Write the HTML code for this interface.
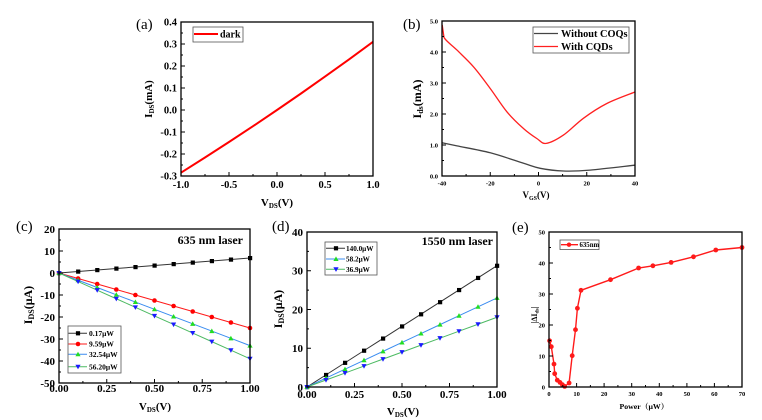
<!DOCTYPE html>
<html><head><meta charset="utf-8"><style>
html,body{margin:0;padding:0;background:#fff;}
svg{display:block;}
text{font-family:"Liberation Serif","Noto Serif CJK SC",serif;font-weight:bold;fill:#000;}
.pl{font-weight:normal;font-size:15px;}
</style></head><body>
<svg width="762" height="420" viewBox="0 0 762 420" xmlns="http://www.w3.org/2000/svg">
<defs>
<marker id="sqK" markerUnits="userSpaceOnUse" markerWidth="8" markerHeight="8" refX="4" refY="4"><rect x="2" y="2" width="4.2" height="4.2" fill="#000"/></marker>
<marker id="ciR" markerUnits="userSpaceOnUse" markerWidth="8" markerHeight="8" refX="4" refY="4"><circle cx="4" cy="4" r="2.3" fill="#ff0000"/></marker>
<marker id="ciR2" markerUnits="userSpaceOnUse" markerWidth="8" markerHeight="8" refX="4" refY="4"><circle cx="4" cy="4" r="2.4" fill="#ff1a1a"/></marker>
<marker id="trG" markerUnits="userSpaceOnUse" markerWidth="8" markerHeight="8" refX="4" refY="4"><polygon points="4,1.4 6.6,6 1.4,6" fill="#22dd22"/></marker>
<marker id="tdB" markerUnits="userSpaceOnUse" markerWidth="8" markerHeight="8" refX="4" refY="4"><polygon points="1.4,2 6.6,2 4,6.6" fill="#1a1aff"/></marker>
</defs>

<!-- ================= (a) ================= -->
<text class="pl" x="136" y="29">(a)</text>
<polyline fill="none" stroke="#ff0000" stroke-width="2" points="181,172.7 205,157.5 229,142 253,126.2 277,110 301,93.5 325,76.6 349,59.4 373,41.8"/>
<rect x="181" y="22" width="192" height="154" fill="none" stroke="#000" stroke-width="1.3"/>
<path stroke="#000" stroke-width="1" d="M181,22h4M181,44h4M181,66h4M181,88h4M181,110h4M181,132h4M181,154h4M181,176h4
M181,33h2M181,55h2M181,77h2M181,99h2M181,121h2M181,143h2M181,165h2
M229,176v-4M277,176v-4M325,176v-4M205,176v-2M253,176v-2M301,176v-2M349,176v-2"/>
<g font-size="10.5" text-anchor="end">
<text x="177" y="25.5">0.4</text><text x="177" y="47.5">0.3</text><text x="177" y="69.5">0.2</text><text x="177" y="91.5">0.1</text>
<text x="177" y="113.5">0.0</text><text x="177" y="135.5">-0.1</text><text x="177" y="157.5">-0.2</text><text x="177" y="179.5">-0.3</text>
</g>
<g font-size="10.5" text-anchor="middle">
<text x="181" y="188">-1.0</text><text x="229" y="188">-0.5</text><text x="277" y="188">0.0</text><text x="325" y="188">0.5</text><text x="373" y="188">1.0</text>
</g>
<text x="277" y="206" font-size="11" text-anchor="middle">V<tspan font-size="7" dy="2">DS</tspan><tspan dy="-2">(V)</tspan></text>
<text transform="translate(152,99) rotate(-90)" font-size="11" text-anchor="middle">I<tspan font-size="7" dy="2">DS</tspan><tspan dy="-2">(mA)</tspan></text>
<rect x="193" y="27" width="50" height="15" fill="#fff" stroke="#555" stroke-width="0.8"/>
<line x1="194" y1="34" x2="218" y2="34" stroke="#ff0000" stroke-width="2"/>
<text x="220" y="37.5" font-size="10">dark</text>

<!-- ================= (b) ================= -->
<text class="pl" x="403" y="29">(b)</text>
<path fill="none" stroke="#ff2020" stroke-width="1.3" d="M442.2,25 L444,37.5 C446.5,41.7 452.1,45.2 457,50.1 C461.9,55 468,60.5 473.6,66.9 C479.2,73.3 484.8,81.1 490.3,88.6 C495.9,96.1 501.4,105.1 506.9,111.8 C512.5,118.5 518.6,124.2 523.6,128.6 C528.6,133.1 533,136 536.8,138.5 C540.6,141 541.8,144 546.2,143.4 C550.6,142.8 557.2,139.3 563.4,135.1 C569.6,130.9 576.2,123.6 583.4,118.3 C590.6,113 598.2,107.9 606.8,103.5 C615.4,99.1 630.3,93.9 635,92"/>
<path fill="none" stroke="#444" stroke-width="1.3" d="M442,142.8 C444.5,143.3 449,144.2 457,145.9 C465.1,147.6 479.2,149.9 490.3,152.8 C501.4,155.7 515.3,160.7 523.6,163.3 C531.9,165.9 533.6,167 540.2,168.3 C546.8,169.6 555.1,170.7 563.4,171 C571.7,171.3 578.2,171.1 590.1,170.1 C602,169.1 627.5,166 635,165.2"/>
<rect x="442" y="21" width="193" height="155" fill="none" stroke="#000" stroke-width="1.3"/>
<path stroke="#000" stroke-width="1" d="M442,145h4M442,114h4M442,83h4M442,52h4M442,160.5h2M442,129.5h2M442,98.5h2M442,67.5h2M442,36.5h2
M490.25,176v-4M538.5,176v-4M586.75,176v-4M466.1,176v-2M514.4,176v-2M562.6,176v-2M610.9,176v-2"/>
<g font-size="6.5" text-anchor="end">
<text x="438" y="178.3">0.0</text><text x="438" y="147.3">1.0</text><text x="438" y="116.3">2.0</text><text x="438" y="85.3">3.0</text><text x="438" y="54.3">4.0</text><text x="438" y="23.3">5.0</text>
</g>
<g font-size="6.5" text-anchor="middle">
<text x="442" y="185.5">-40</text><text x="490.25" y="185.5">-20</text><text x="538.5" y="185.5">0</text><text x="586.75" y="185.5">20</text><text x="635" y="185.5">40</text>
</g>
<text x="536" y="198" font-size="9" text-anchor="middle">V<tspan font-size="6" dy="2">GS</tspan><tspan dy="-2">(V)</tspan></text>
<text transform="translate(421,99) rotate(-90)" font-size="12" text-anchor="middle">I<tspan font-size="8" dy="2">ds</tspan><tspan dy="-2">(mA)</tspan></text>
<rect x="533" y="27" width="96" height="26" fill="#fff" stroke="#555" stroke-width="0.8"/>
<line x1="534" y1="33.5" x2="558" y2="33.5" stroke="#444" stroke-width="1.3"/>
<line x1="534" y1="46.5" x2="558" y2="46.5" stroke="#ff2020" stroke-width="1.3"/>
<text x="561" y="37" font-size="10.3">Without COQs</text>
<text x="561" y="50" font-size="10.3">With CQDs</text>

<!-- ================= (c) ================= -->
<text class="pl" x="16" y="231">(c)</text>
<polyline fill="none" stroke="#333" stroke-width="1" marker-start="url(#sqK)" marker-mid="url(#sqK)" marker-end="url(#sqK)" points="59,273 78.1,271.5 97.2,270 116.3,268.5 135.4,267 154.5,265.5 173.6,264 192.7,262.5 211.8,261 230.9,259.5 250,258"/>
<polyline fill="none" stroke="#ff1a1a" stroke-width="1" marker-start="url(#ciR)" marker-mid="url(#ciR)" marker-end="url(#ciR)" points="59,273 78.1,278.5 97.2,284 116.3,289.5 135.4,295 154.5,300.5 173.6,306 192.7,311.5 211.8,317 230.9,322.5 250,328"/>
<polyline fill="none" stroke="#3a8cf0" stroke-width="1" marker-start="url(#trG)" marker-mid="url(#trG)" marker-end="url(#trG)" points="59,273 78.1,280.26 97.2,287.52 116.3,294.78 135.4,302.04 154.5,309.3 173.6,316.56 192.7,323.82 211.8,331.08 230.9,338.34 250,345.6"/>
<polyline fill="none" stroke="#4cba62" stroke-width="1" marker-start="url(#tdB)" marker-mid="url(#tdB)" marker-end="url(#tdB)" points="59,273 78.1,281.58 97.2,290.16 116.3,298.74 135.4,307.32 154.5,315.9 173.6,324.48 192.7,333.06 211.8,341.64 230.9,350.22 250,358.8"/>
<rect x="59" y="229" width="191" height="154" fill="none" stroke="#000" stroke-width="1.3"/>
<path stroke="#000" stroke-width="1" d="M59,251h4M59,273h4M59,295h4M59,317h4M59,339h4M59,361h4M59,240h2M59,262h2M59,284h2M59,306h2M59,328h2M59,350h2M59,372h2
M106.75,383v-4M154.5,383v-4M202.25,383v-4M82.9,383v-2M130.6,383v-2M178.4,383v-2M226.1,383v-2"/>
<g font-size="11" text-anchor="end">
<text x="55" y="232.8">20</text><text x="55" y="254.8">10</text><text x="55" y="276.8">0</text><text x="55" y="298.8">-10</text>
<text x="55" y="320.8">-20</text><text x="55" y="342.8">-30</text><text x="55" y="364.8">-40</text><text x="55" y="386.8">-50</text>
</g>
<g font-size="11" text-anchor="middle">
<text x="59" y="392">0.00</text><text x="106.75" y="392">0.25</text><text x="154.5" y="392">0.50</text><text x="202.25" y="392">0.75</text><text x="250" y="392">1.00</text>
</g>
<text x="155" y="410" font-size="11" text-anchor="middle">V<tspan font-size="7" dy="2">DS</tspan><tspan dy="-2">(V)</tspan></text>
<text transform="translate(32,305) rotate(-90)" font-size="12" text-anchor="middle">I<tspan font-size="8" dy="2">DS</tspan><tspan dy="-2">(μA)</tspan></text>
<text x="243" y="244" font-size="12" text-anchor="end">635 nm laser</text>
<rect x="68" y="326" width="53" height="47" fill="#fff" stroke="#555" stroke-width="0.8"/>
<line x1="68.5" y1="333.3" x2="87" y2="333.3" stroke="#333" stroke-width="1"/><rect x="75.9" y="331.2" width="4.2" height="4.2" fill="#000"/>
<line x1="68.5" y1="344" x2="87" y2="344" stroke="#ff1a1a" stroke-width="1"/><circle cx="78" cy="344" r="2.3" fill="#ff0000"/>
<line x1="68.5" y1="354.3" x2="87" y2="354.3" stroke="#3a8cf0" stroke-width="1"/><polygon points="78,351.7 80.6,356.3 75.4,356.3" fill="#22dd22"/>
<line x1="68.5" y1="366.7" x2="87" y2="366.7" stroke="#4cba62" stroke-width="1"/><polygon points="75.4,364.7 80.6,364.7 78,369.3" fill="#1a1aff"/>
<g font-size="7.5">
<text x="89" y="336">0.17μW</text><text x="89" y="346.7">9.59μW</text><text x="89" y="357">32.54μW</text><text x="89" y="369.4">56.20μW</text>
</g>

<!-- ================= (d) ================= -->
<text class="pl" x="272" y="231">(d)</text>
<polyline fill="none" stroke="#333" stroke-width="1" marker-start="url(#sqK)" marker-mid="url(#sqK)" marker-end="url(#sqK)" points="307,387 326,374.87 345,362.74 364,350.61 383,338.48 402,326.35 421,314.22 440,302.09 459,289.96 478,277.83 497,265.7"/>
<polyline fill="none" stroke="#3a8cf0" stroke-width="1" marker-start="url(#trG)" marker-mid="url(#trG)" marker-end="url(#trG)" points="307,387 326,378.09 345,369.18 364,360.27 383,351.36 402,342.45 421,333.54 440,324.63 459,315.72 478,306.81 497,297.9"/>
<polyline fill="none" stroke="#4cba62" stroke-width="1" marker-start="url(#tdB)" marker-mid="url(#tdB)" marker-end="url(#tdB)" points="307,387 326,380.03 345,373.05 364,366.08 383,359.1 402,352.13 421,345.15 440,338.18 459,331.2 478,324.23 497,317.25"/>
<rect x="307" y="232" width="190" height="155" fill="none" stroke="#000" stroke-width="1.3"/>
<path stroke="#000" stroke-width="1" d="M307,270.75h4M307,309.5h4M307,348.25h4M307,251.4h2M307,290.1h2M307,328.9h2M307,367.6h2
M354.5,387v-4M402,387v-4M449.5,387v-4M330.75,387v-2M378.25,387v-2M425.75,387v-2M473.25,387v-2"/>
<g font-size="11" text-anchor="end">
<text x="303" y="235.8">40</text><text x="303" y="274.5">30</text><text x="303" y="313.3">20</text><text x="303" y="352">10</text><text x="303" y="390.8">0</text>
</g>
<g font-size="11" text-anchor="middle">
<text x="307" y="398">0.00</text><text x="354.5" y="398">0.25</text><text x="402" y="398">0.50</text><text x="449.5" y="398">0.75</text><text x="497" y="398">1.00</text>
</g>
<text x="403" y="415" font-size="11" text-anchor="middle">V<tspan font-size="7" dy="2">DS</tspan><tspan dy="-2">(V)</tspan></text>
<text transform="translate(282,309) rotate(-90)" font-size="12" text-anchor="middle">I<tspan font-size="8" dy="2">DS</tspan><tspan dy="-2">(μA)</tspan></text>
<text x="493" y="245" font-size="12" text-anchor="end">1550 nm laser</text>
<rect x="325" y="242" width="52" height="33" fill="#fff" stroke="#555" stroke-width="0.8"/>
<line x1="326" y1="248.3" x2="345" y2="248.3" stroke="#333" stroke-width="1"/><rect x="333.9" y="246.2" width="4.2" height="4.2" fill="#000"/>
<line x1="326" y1="259" x2="345" y2="259" stroke="#3a8cf0" stroke-width="1"/><polygon points="336,256.4 338.6,261 333.4,261" fill="#22dd22"/>
<line x1="326" y1="269.3" x2="345" y2="269.3" stroke="#4cba62" stroke-width="1"/><polygon points="333.4,267.3 338.6,267.3 336,271.9" fill="#1a1aff"/>
<g font-size="7.2">
<text x="346" y="250.8">140.0μW</text><text x="346" y="261.5">58.2μW</text><text x="346" y="271.8">36.9μW</text>
</g>

<!-- ================= (e) ================= -->
<text class="pl" x="512" y="232">(e)</text>
<polyline fill="none" stroke="#ff1a1a" stroke-width="1.4" marker-start="url(#ciR2)" marker-mid="url(#ciR2)" marker-end="url(#ciR2)" points="549.6,340.8 551.3,346.7 554,364.1 554.7,373.7 557.3,380.2 560,382.4 562.4,384.7 564.7,386.4 569.1,383 572.2,355.7 575.5,329.7 577.4,308.3 581,290.3 610.5,279.7 638.6,268 652.9,265.8 671.1,262.4 693.5,256.8 715.8,250 742,247.5"/>
<rect x="549" y="232" width="193" height="155" fill="none" stroke="#000" stroke-width="1.3"/>
<path stroke="#000" stroke-width="1" d="M549,263h4M549,294h4M549,325h4M549,356h4M549,247.5h2M549,278.5h2M549,309.5h2M549,340.5h2M549,371.5h2
M576.6,387v-4M604.1,387v-4M631.7,387v-4M659.3,387v-4M686.9,387v-4M714.4,387v-4
M562.8,387v-2M590.4,387v-2M617.9,387v-2M645.5,387v-2M673.1,387v-2M700.6,387v-2M728.2,387v-2"/>
<g font-size="6.5" text-anchor="end">
<text x="545" y="389.3">0</text><text x="545" y="358.3">10</text><text x="545" y="327.3">20</text><text x="545" y="296.3">30</text><text x="545" y="265.3">40</text><text x="545" y="234.3">50</text>
</g>
<g font-size="6.5" text-anchor="middle">
<text x="549" y="396">0</text><text x="576.6" y="396">10</text><text x="604.1" y="396">20</text><text x="631.7" y="396">30</text><text x="659.3" y="396">40</text><text x="686.9" y="396">50</text><text x="714.4" y="396">60</text><text x="742" y="396">70</text>
</g>
<text x="644" y="409" font-size="7.8" text-anchor="middle">Power（μW）</text>
<text transform="translate(537,315) rotate(-90)" font-size="8" text-anchor="middle">|ΔI<tspan font-size="5.5" dy="1.5">ds</tspan><tspan dy="-1.5">|</tspan></text>
<rect x="560" y="240" width="39" height="9.5" fill="#fff" stroke="#555" stroke-width="0.8"/>
<line x1="561" y1="244.7" x2="578" y2="244.7" stroke="#ff1a1a" stroke-width="1.3"/><circle cx="569" cy="244.7" r="2.2" fill="#ff1a1a"/>
<text x="579.5" y="247.2" font-size="6.8">635nm</text>
</svg>
</body></html>
